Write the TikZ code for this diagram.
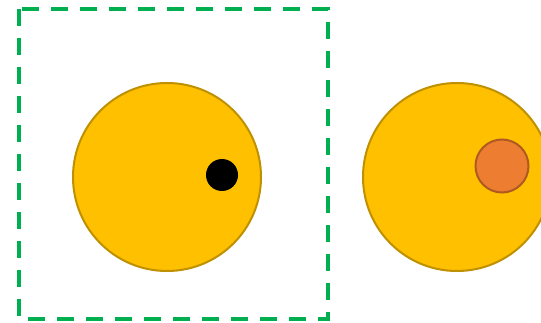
\documentclass[tikz,border=0pt]{standalone}
\definecolor{goldfill}{HTML}{FFC000}
\definecolor{golddraw}{HTML}{BF9000}
\definecolor{orfill}{HTML}{ED7D31}
\definecolor{ordraw}{HTML}{AE5A21}
\definecolor{grn}{HTML}{00B050}
\tikzset{
  bigdisc/.style={circle, fill=goldfill, draw=golddraw, line width=2pt, minimum size=188pt, inner sep=0pt},
  blackdot/.style={circle, fill=black, minimum size=32pt, inner sep=0pt},
  ordisc/.style={circle, fill=orfill, draw=ordraw, line width=2pt, minimum size=53pt, inner sep=0pt},
  frame/.style={draw=grn, line width=4pt, dash pattern=on 17pt off 12pt}
}
\begin{document}
\begin{tikzpicture}[x=1pt,y=-1pt]
\useasboundingbox (0,0) rectangle (541,323);
\draw[frame] (19,9) rectangle (328,319);
\node[bigdisc] (left) at (167,177) {};
\node[blackdot] (dot) at (222,175) {};
\node[bigdisc] (right) at (457,177) {};
\node[ordisc] (orange) at (502,166) {};
\end{tikzpicture}
\end{document}
